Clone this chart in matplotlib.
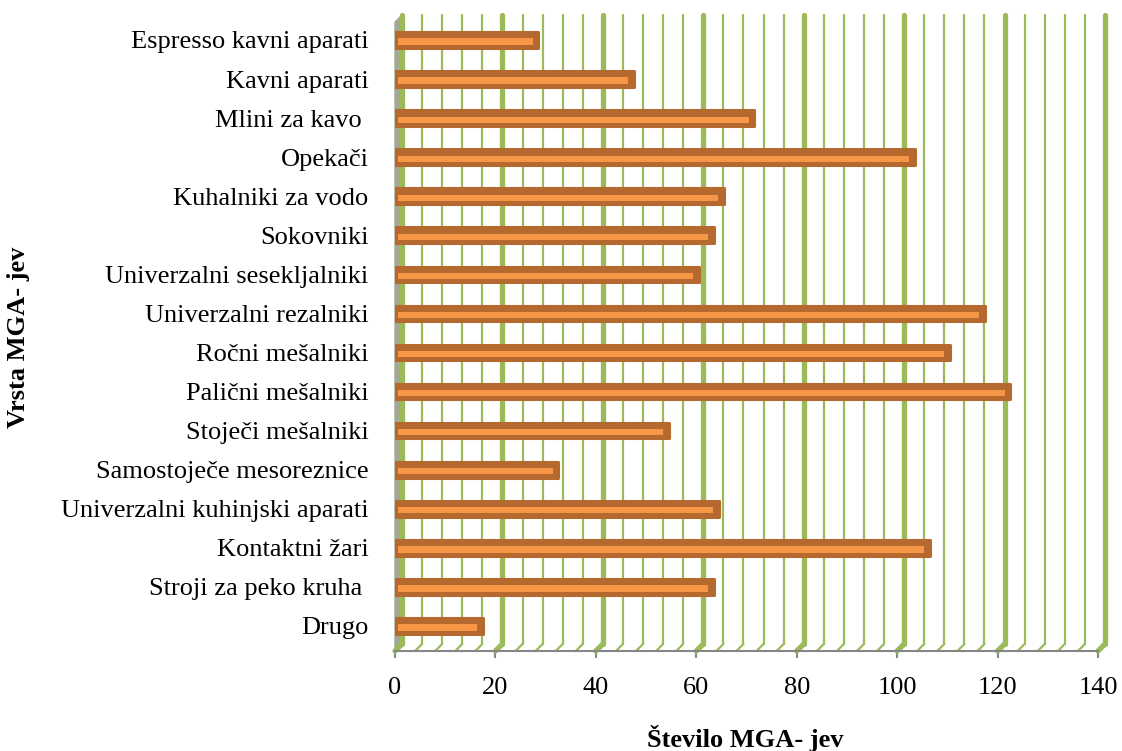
import numpy as np
import matplotlib
matplotlib.use('Agg')
import matplotlib.pyplot as plt

plt.rcParams['font.family'] = ['Liberation Serif', 'DejaVu Serif']

# data (top to bottom as in the chart)
categories = ['Espresso kavni aparati', 'Kavni aparati', 'Mlini za kavo ', 'Opekači',
              'Kuhalniki za vodo', 'Sokovniki', 'Univerzalni sesekljalniki',
              'Univerzalni rezalniki', 'Ročni mešalniki', 'Palični mešalniki',
              'Stoječi mešalniki', 'Samostoječe mesoreznice',
              'Univerzalni kuhinjski aparati', 'Kontaktni žari',
              'Stroji za peko kruha ', 'Drugo']
values = [28, 47, 71, 103, 65, 63, 60, 117, 110, 122, 54, 32, 64, 106, 63, 17]
xticks = [0, 20, 40, 60, 80, 100, 120, 140]

dark = '#B5692F'
light = '#F79646'
green = '#9BBB59'
fs = 19

fig = plt.figure(figsize=(11.22, 7.51), dpi=100)
ax = fig.add_axes([395 / 1122, 1 - 651 / 751, (1098 - 395) / 1122, (651 - 22) / 751])

n = len(categories)
ypos = np.arange(n)[::-1]
ymin, ymax = -0.64, 15.46
ax.set_xlim(0, 140)
ax.set_ylim(ymin, ymax)

# 3d depth offset (about 7 px)
dx = 7 * 140 / 703
dy = 7 * (ymax - ymin) / 629

# side wall
ax.fill([0, dx, dx, 0], [ymin, ymin + dy, ymax + dy, ymax], color='#A3A892',
        clip_on=False, zorder=1)

# gridlines on the back wall and floor
for x in np.arange(0, 141, 4):
    major = x % 20 == 0
    lw = 3.8 if major else 1.6
    ax.plot([x + dx, x + dx], [ymin + dy, ymax + dy], color=green, lw=lw,
            solid_capstyle='round', clip_on=False, zorder=2)
    ax.plot([x, x + dx], [ymin, ymin + dy], color=green, lw=lw,
            solid_capstyle='round', clip_on=False, zorder=2)

# bars
vals = np.array(values)
ax.barh(ypos, vals + 0.5, height=0.4, color=dark, edgecolor=dark, linewidth=2.2,
        zorder=3, joinstyle='round')
ax.barh(ypos - 0.04, vals - 1.2, left=0.6, height=0.16, color=light,
        linewidth=0, zorder=4)

# axes styling
for s in ['top', 'right', 'left']:
    ax.spines[s].set_visible(False)
ax.spines['bottom'].set_color('#868686')
ax.spines['bottom'].set_linewidth(1.5)
ax.spines['bottom'].set_zorder(5)
ax.set_xticks(xticks)
ax.set_xticklabels([str(t) for t in xticks], fontsize=fs)
ax.tick_params(axis='x', length=5, width=1.5, color='#868686', pad=14)
ax.set_yticks(ypos)
ax.set_yticklabels(categories, fontsize=fs)
ax.tick_params(axis='y', length=0, pad=19)

fig.text(745 / 1122, 1 - 739 / 751, 'Število MGA- jev', ha='center', va='center',
         fontsize=fs, fontweight='bold')
fig.text(19 / 1122, 1 - 337 / 751, 'Vrsta MGA- jev', ha='center', va='center',
         fontsize=fs, fontweight='bold', rotation=90)

fig.savefig('out.png', dpi=100)
